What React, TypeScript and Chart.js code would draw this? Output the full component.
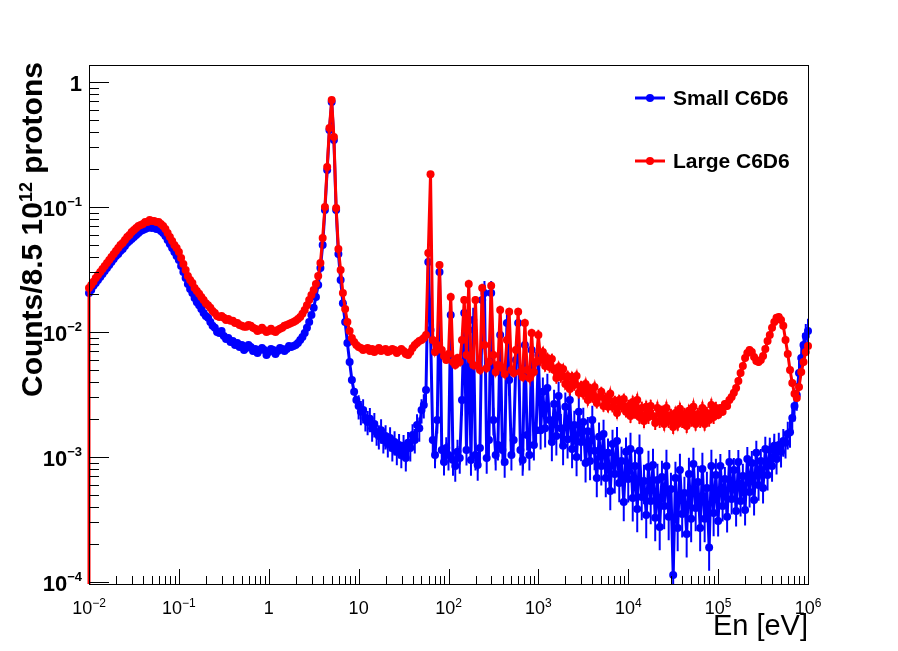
import React, { useEffect, useRef } from "react";
import { Chart, registerables } from "chart.js";

Chart.register(...registerables);

// ---- data -------------------------------------------------------------
// log-binned energy grid: 40 bins per decade from 1e-2 eV to 1e6 eV
const DECADES = [-2, -1, 0, 1, 2, 3, 4, 5];
const MANTISSAS = [
  1.0, 1.059, 1.122, 1.189, 1.259, 1.334, 1.413, 1.496, 1.585, 1.679,
  1.778, 1.884, 1.995, 2.113, 2.239, 2.371, 2.512, 2.661, 2.818, 2.985,
  3.162, 3.35, 3.548, 3.758, 3.981, 4.217, 4.467, 4.732, 5.012, 5.309,
  5.623, 5.957, 6.31, 6.683, 7.079, 7.499, 7.943, 8.414, 8.913, 9.441,
];
const LAST_ENERGY = 1e6;

// Small C6D6 (blue)
const SMALL = [
  0.0205, 0.0217, 0.0234, 0.0247, 0.0261, 0.0276, 0.0291, 0.0307, 0.0325, 0.0344,
  0.0363, 0.0384, 0.0405, 0.0421, 0.0445, 0.0461, 0.0488, 0.0516, 0.0535, 0.0555,
  0.0575, 0.0597, 0.0619, 0.0643, 0.0655, 0.0667, 0.068, 0.0692, 0.068, 0.0692,
  0.0667, 0.0667, 0.0643, 0.0619, 0.0586, 0.0545, 0.0506, 0.047, 0.0437, 0.0405,
  0.0377, 0.0338, 0.0302, 0.0271, 0.0242, 0.0221, 0.0205, 0.0187, 0.0173, 0.0164,
  0.0153, 0.0142, 0.0134, 0.013, 0.012, 0.0112, 0.0108, 0.01, 0.00981, 0.0102,
  0.00929, 0.00879, 0.00895, 0.00832, 0.00847, 0.00787, 0.00817, 0.00758, 0.00787, 0.00718,
  0.00745, 0.00787, 0.00758, 0.00705, 0.00731, 0.0068, 0.00718, 0.00745, 0.00718, 0.00655,
  0.00692, 0.00731, 0.00718, 0.00667, 0.00705, 0.00745, 0.00731, 0.00705, 0.00731, 0.00773,
  0.00758, 0.00773, 0.00787, 0.00817, 0.00863, 0.00912, 0.00981, 0.0108, 0.012, 0.0137,
  0.0156, 0.0191, 0.0238, 0.0325, 0.0497, 0.0946, 0.198, 0.413, 0.692, 0.344,
  0.0946, 0.0421, 0.0261, 0.017, 0.012, 0.00817, 0.00575, 0.00413, 0.00332, 0.00286,
  0.00256, 0.0023, 0.00238, 0.00205, 0.00191, 0.00202, 0.0017, 0.00184, 0.00158, 0.00147,
  0.00164, 0.00137, 0.00147, 0.00127, 0.00142, 0.00118, 0.00132, 0.0011, 0.00125, 0.00104,
  0.00123, 0.000981, 0.0013, 0.00118, 0.0015, 0.00137, 0.0018, 0.0017, 0.00238, 0.00261,
  0.00344, 0.0363, 0.0104, 0.00137, 0.00104, 0.00198, 0.0302, 0.00114, 0.000912, 0.00118,
  0.00104, 0.0137, 0.000946, 0.000847, 0.0011, 0.000981, 0.00286, 0.0142, 0.00114, 0.0104,
  0.000946, 0.0125, 0.00104, 0.000863, 0.00118, 0.018, 0.0205, 0.000981, 0.00137, 0.0205,
  0.00198, 0.00104, 0.00125, 0.00946, 0.00114, 0.000912, 0.0118, 0.00413, 0.00104, 0.00137,
  0.00597, 0.0118, 0.00114, 0.000946, 0.00787, 0.0015, 0.00104, 0.00718, 0.00125, 0.00164,
  0.00655, 0.00164, 0.00332, 0.0017, 0.00357, 0.00198, 0.00132, 0.00266, 0.00147, 0.00308,
  0.0017, 0.00123, 0.00252, 0.00139, 0.00286, 0.00116, 0.0018, 0.001, 0.0023, 0.00132,
  0.00191, 0.000895, 0.00161, 0.000929, 0.00198, 0.00112, 0.00068, 0.00145, 0.000847, 0.00153,
  0.00068, 0.00108, 0.000535, 0.00127, 0.000731, 0.00134, 0.00062, 0.000929, 0.000437, 0.0011,
  0.000667, 0.00116, 0.00047, 0.000847, 0.000384, 0.00112, 0.000479, 0.000643, 0.000344, 0.000832,
  0.000445, 0.000863, 0.000326, 0.000655, 0.000276, 0.000692, 0.000406, 0.000847, 0.000332, 0.000555,
  0.000114, 0.00068, 0.000271, 0.000787, 0.00035, 0.000516, 0.000242, 0.000731, 0.00032, 0.000879,
  0.000391, 0.000631, 0.000271, 0.000802, 0.00032, 0.000565, 0.000189, 0.000847, 0.000357, 0.000718,
  0.000308, 0.000847, 0.000406, 0.000667, 0.000332, 0.000912, 0.000462, 0.000787, 0.00037, 0.000912,
  0.000445, 0.000705, 0.000377, 0.000964, 0.000525, 0.000895, 0.000453, 0.00108, 0.000597, 0.000929,
  0.000565, 0.00116, 0.000718, 0.00114, 0.000847, 0.00123, 0.000964, 0.00125, 0.0011, 0.00134,
  0.0013, 0.00153, 0.00158, 0.00205, 0.00256, 0.00313, 0.0047, 0.0062, 0.00787, 0.00929,
  0.0102,
];

// Large C6D6 (red)
const LARGE = [
  0.0225, 0.0238, 0.0252, 0.0271, 0.0286, 0.0302, 0.0319, 0.0338, 0.0357, 0.0377,
  0.0398, 0.0421, 0.0445, 0.047, 0.0497, 0.0516, 0.0545, 0.0575, 0.0597, 0.0631,
  0.0655, 0.068, 0.0705, 0.0718, 0.0731, 0.0758, 0.0758, 0.0787, 0.0773, 0.0773,
  0.0758, 0.0758, 0.0731, 0.0705, 0.0667, 0.0619, 0.0575, 0.0535, 0.0497, 0.047,
  0.0437, 0.0391, 0.035, 0.0313, 0.0281, 0.0261, 0.0247, 0.0225, 0.0213, 0.0202,
  0.0191, 0.018, 0.017, 0.0164, 0.0156, 0.0147, 0.0142, 0.0134, 0.0132, 0.0134,
  0.013, 0.0125, 0.0127, 0.0123, 0.0123, 0.0118, 0.0118, 0.0114, 0.0112, 0.011,
  0.011, 0.0114, 0.0112, 0.0108, 0.0106, 0.0102, 0.0104, 0.0108, 0.0104, 0.01,
  0.0102, 0.0106, 0.0102, 0.01, 0.0104, 0.0106, 0.0108, 0.0112, 0.0114, 0.0116,
  0.0118, 0.012, 0.0123, 0.0127, 0.0132, 0.014, 0.015, 0.0164, 0.018, 0.0198,
  0.0217, 0.0242, 0.0281, 0.0357, 0.0565, 0.1, 0.209, 0.428, 0.718, 0.363,
  0.0981, 0.0461, 0.0313, 0.0205, 0.0153, 0.012, 0.0102, 0.00895, 0.00832, 0.00787,
  0.00758, 0.00745, 0.00718, 0.00731, 0.00745, 0.00705, 0.00731, 0.00692, 0.00718, 0.00745,
  0.00705, 0.00718, 0.00731, 0.00692, 0.00705, 0.00731, 0.00718, 0.0068, 0.00705, 0.00731,
  0.00705, 0.00667, 0.00655, 0.00692, 0.00745, 0.00787, 0.00817, 0.00847, 0.00863, 0.00895,
  0.00946, 0.0429, 0.183, 0.00863, 0.00692, 0.00787, 0.0344, 0.00718, 0.00643, 0.00597,
  0.00667, 0.0191, 0.00575, 0.00545, 0.0062, 0.00575, 0.00863, 0.018, 0.00655, 0.0242,
  0.00597, 0.00545, 0.018, 0.00535, 0.00497, 0.0225, 0.00787, 0.00516, 0.00575, 0.0234,
  0.00655, 0.00479, 0.00545, 0.015, 0.00516, 0.00462, 0.00863, 0.0145, 0.00497, 0.0047,
  0.00718, 0.0145, 0.00479, 0.00437, 0.0118, 0.00497, 0.00429, 0.00981, 0.00479, 0.00575,
  0.00946, 0.00597, 0.00692, 0.00535, 0.0062, 0.00525, 0.00608, 0.00497, 0.00429, 0.00525,
  0.00437, 0.00506, 0.00384, 0.00445, 0.0035, 0.00437, 0.00377, 0.00445, 0.00326, 0.0037,
  0.0032, 0.00384, 0.00286, 0.0035, 0.00302, 0.00363, 0.00271, 0.00302, 0.00332, 0.00256,
  0.00297, 0.00252, 0.0032, 0.00252, 0.00281, 0.00225, 0.00286, 0.00252, 0.00291, 0.0023,
  0.00256, 0.00213, 0.00276, 0.0023, 0.00286, 0.00209, 0.00247, 0.00194, 0.00252, 0.00209,
  0.00256, 0.00213, 0.00187, 0.00247, 0.00194, 0.0023, 0.00184, 0.00247, 0.00194, 0.00217,
  0.00174, 0.00225, 0.00184, 0.00243, 0.00194, 0.00221, 0.00177, 0.00234, 0.00198, 0.00252,
  0.00184, 0.00221, 0.00194, 0.00247, 0.00184, 0.00225, 0.00198, 0.00261, 0.00209, 0.00247,
  0.00217, 0.00247, 0.0023, 0.00266, 0.00256, 0.00286, 0.00302, 0.00326, 0.00357, 0.00406,
  0.0047, 0.00535, 0.0062, 0.0068, 0.00718, 0.00692, 0.00631, 0.00586, 0.00575, 0.00597,
  0.00643, 0.00731, 0.00847, 0.00946, 0.0108, 0.012, 0.013, 0.0132, 0.0125, 0.0112,
  0.00863, 0.00667, 0.00497, 0.00391, 0.0032, 0.00297, 0.00363, 0.00479, 0.00575, 0.00692,
  0.00773,
];
// first (empty) bin of the Large detector, drawn down to the axis floor
const LARGE_FLOOR = 1e-6;

// relative statistical error of each series, one value per energy decade
const SMALL_REL_ERR = [0.03, 0.03, 0.05, 0.22, 0.25, 0.3, 0.35, 0.25];
const LARGE_REL_ERR = [0.02, 0.02, 0.03, 0.05, 0.08, 0.1, 0.12, 0.07];

const SERIES_NAMES = ["Small C6D6", "Large C6D6"];
const SERIES_COLORS = ["#0000ff", "#ff0000"];
const X_TICK_EXPONENTS = [-2, -1, 0, 1, 2, 3, 4, 5, 6];
const Y_TICK_EXPONENTS = [-4, -3, -2, -1, 0];
const X_MIN = 1e-2;
const X_MAX = 1e6;
const Y_MIN = 9.64e-5;
const Y_MAX = 1.368;
const Y_TITLE = ["Counts/8.5 10", "12", " protons"];
const X_TITLE = "En [eV]";

// ---- helpers ----------------------------------------------------------
const FAMILY = '"Liberation Sans", Arial, Helvetica, sans-serif';

function drawPower(
  ctx: CanvasRenderingContext2D,
  exp: number,
  x: number,
  baseline: number,
  baseSize: number,
  supSize: number,
  raise: number,
  weight: string,
  align: "center" | "right"
) {
  ctx.textBaseline = "alphabetic";
  ctx.textAlign = "left";
  const baseFont = `${weight} ${baseSize}px ${FAMILY}`;
  const supFont = `${weight} ${supSize}px ${FAMILY}`;
  if (exp === 0 || exp === 1) {
    const t = exp === 0 ? "1" : "10";
    ctx.font = baseFont;
    const w = ctx.measureText(t).width;
    const sx = align === "center" ? x - w / 2 : x - w;
    ctx.fillText(t, sx, baseline);
    return;
  }
  const sup = (exp < 0 ? "\u2212" : "") + Math.abs(exp);
  ctx.font = baseFont;
  const wb = ctx.measureText("10").width;
  ctx.font = supFont;
  const ws = ctx.measureText(sup).width;
  const total = wb + ws;
  const sx = align === "center" ? x - total / 2 : x - total;
  ctx.font = baseFont;
  ctx.fillText("10", sx, baseline);
  ctx.font = supFont;
  ctx.fillText(sup, sx + wb, baseline - raise);
}

// vertical error bars, drawn right after each dataset so the stacking matches
const errorBars = {
  id: "errorBars",
  afterDatasetDraw(chart: any, args: any) {
    const i = args.index;
    const rel = i === 0 ? SMALL_REL_ERR : LARGE_REL_ERR;
    const { ctx, chartArea: a, scales } = chart;
    const xs = scales.x;
    const ys = scales.y;
    const pts = chart.data.datasets[i].data as { x: number; y: number }[];
    ctx.save();
    ctx.beginPath();
    ctx.rect(a.left, a.top, a.right - a.left, a.bottom - a.top);
    ctx.clip();
    ctx.strokeStyle = SERIES_COLORS[i];
    ctx.lineWidth = 2;
    ctx.beginPath();
    for (const p of pts) {
      if (p.y < Y_MIN) continue;
      const d = Math.min(rel.length - 1, Math.max(0, Math.floor(Math.log10(p.x) + 2 + 1e-9)));
      const r = rel[d];
      const px = xs.getPixelForValue(p.x);
      ctx.moveTo(px, ys.getPixelForValue(p.y * (1 + r)));
      ctx.lineTo(px, ys.getPixelForValue(Math.max(p.y * (1 - r), 1e-7)));
    }
    ctx.stroke();
    ctx.restore();
  },
};

const rootStyle = {
  id: "rootStyle",
  afterDatasetsDraw(chart: any) {
    const { ctx, chartArea: a, scales } = chart;
    const xs = scales.x;
    const ys = scales.y;
    ctx.save();
    ctx.strokeStyle = "#000";
    ctx.fillStyle = "#000";
    ctx.lineWidth = 1;

    // frame
    ctx.strokeRect(Math.round(a.left) + 0.5, Math.round(a.top) + 0.5,
      Math.round(a.right - a.left), Math.round(a.bottom - a.top));

    // ticks
    ctx.beginPath();
    for (const e of Y_TICK_EXPONENTS) {
      for (let m = 1; m <= 9; m++) {
        const v = m * Math.pow(10, e);
        if (v < ys.min || v > ys.max) continue;
        const py = Math.round(ys.getPixelForValue(v)) + 0.5;
        const len = m === 1 ? 20 : 10;
        ctx.moveTo(a.left, py);
        ctx.lineTo(a.left + len, py);
      }
    }
    for (const e of X_TICK_EXPONENTS) {
      for (let m = 1; m <= 9; m++) {
        const v = m * Math.pow(10, e);
        if (v < xs.min * 0.999 || v > xs.max * 1.001) continue;
        const px = Math.round(xs.getPixelForValue(v)) + 0.5;
        const len = m === 1 ? 15 : 8;
        ctx.moveTo(px, a.bottom);
        ctx.lineTo(px, a.bottom - len);
      }
    }
    ctx.stroke();

    // tick labels
    for (const e of Y_TICK_EXPONENTS) {
      const py = ys.getPixelForValue(Math.pow(10, e));
      drawPower(ctx, e, a.left - 7, py + 9, 22, 13, 10, "bold", "right");
    }
    for (const e of X_TICK_EXPONENTS) {
      const px = xs.getPixelForValue(Math.pow(10, e));
      drawPower(ctx, e, px, a.bottom + 30, 18, 12, 7.5, "normal", "center");
    }

    // x title
    ctx.font = `normal 29px ${FAMILY}`;
    ctx.textAlign = "right";
    ctx.textBaseline = "alphabetic";
    ctx.fillText(X_TITLE, a.right, a.bottom + 51);

    // y title (rotated, right-aligned to the top of the frame)
    const target = 335;
    const probe = 30;
    ctx.font = `bold ${probe}px ${FAMILY}`;
    const w0 = ctx.measureText(Y_TITLE[0]).width + ctx.measureText(Y_TITLE[2]).width;
    ctx.font = `bold ${probe * 0.6}px ${FAMILY}`;
    const w1 = ctx.measureText(Y_TITLE[1]).width;
    const F = (probe * target) / (w0 + w1);
    ctx.save();
    ctx.translate(42, a.top - 3);
    ctx.rotate(-Math.PI / 2);
    ctx.textAlign = "left";
    let tx = -target;
    ctx.font = `bold ${F}px ${FAMILY}`;
    ctx.fillText(Y_TITLE[0], tx, 0);
    tx += ctx.measureText(Y_TITLE[0]).width;
    ctx.font = `bold ${F * 0.6}px ${FAMILY}`;
    ctx.fillText(Y_TITLE[1], tx, -F * 0.33);
    tx += ctx.measureText(Y_TITLE[1]).width;
    ctx.font = `bold ${F}px ${FAMILY}`;
    ctx.fillText(Y_TITLE[2], tx, 0);
    ctx.restore();

    // legend
    const legendYs = [a.top + 33, a.top + 96];
    SERIES_NAMES.forEach((name, i) => {
      const ly = legendYs[i];
      const lx0 = a.right - 173;
      ctx.strokeStyle = SERIES_COLORS[i];
      ctx.fillStyle = SERIES_COLORS[i];
      ctx.lineWidth = 3;
      ctx.beginPath();
      ctx.moveTo(lx0, ly);
      ctx.lineTo(lx0 + 30, ly);
      ctx.stroke();
      ctx.beginPath();
      ctx.arc(lx0 + 15, ly, 4, 0, Math.PI * 2);
      ctx.fill();
      ctx.fillStyle = "#000";
      ctx.font = `bold 21px ${FAMILY}`;
      ctx.textAlign = "left";
      ctx.textBaseline = "middle";
      ctx.fillText(name, lx0 + 38, ly + 1);
    });

    ctx.restore();
  },
};

// ---- component --------------------------------------------------------
export default function App() {
  const canvasRef = useRef<HTMLCanvasElement | null>(null);

  useEffect(() => {
    const canvas = canvasRef.current;
    if (!canvas) return;

    const energy: number[] = [];
    for (const d of DECADES) for (const m of MANTISSAS) energy.push(m * Math.pow(10, d));
    energy.push(LAST_ENERGY);

    const smallPts = SMALL.map((y, i) => ({ x: energy[i], y }));
    const largePts = [{ x: energy[0], y: LARGE_FLOOR }].concat(
      LARGE.map((y, i) => ({ x: energy[i], y }))
    );

    const clip = { left: 6, right: 6, top: 6, bottom: 0 } as any;
    const chart = new Chart(canvas, {
      type: "scatter",
      data: {
        datasets: [
          {
            label: SERIES_NAMES[0],
            data: smallPts,
            showLine: true,
            borderColor: SERIES_COLORS[0],
            backgroundColor: SERIES_COLORS[0],
            borderWidth: 3,
            pointRadius: 4,
            pointBorderWidth: 0,
            order: 2,
            clip,
          },
          {
            label: SERIES_NAMES[1],
            data: largePts,
            showLine: true,
            borderColor: SERIES_COLORS[1],
            backgroundColor: SERIES_COLORS[1],
            borderWidth: 3,
            pointRadius: (c: any) => (c.dataIndex === 0 ? 0 : 4),
            pointBorderWidth: 0,
            order: 1,
            clip,
          },
        ],
      },
      options: {
        responsive: false,
        animation: false,
        devicePixelRatio: 1,
        layout: { padding: { left: 89, right: 90, top: 65, bottom: 67 } },
        plugins: {
          legend: { display: false },
          tooltip: { enabled: false },
          title: { display: false },
        },
        scales: {
          x: { type: "logarithmic", min: X_MIN, max: X_MAX, display: false },
          y: { type: "logarithmic", min: Y_MIN, max: Y_MAX, display: false },
        },
      },
      plugins: [errorBars, rootStyle],
    });

    return () => chart.destroy();
  }, []);

  return (
    <div style={{ position: "fixed", left: 0, top: 0, width: 898, height: 651, background: "#fff" }}>
      <canvas ref={canvasRef} width={898} height={651} />
    </div>
  );
}
